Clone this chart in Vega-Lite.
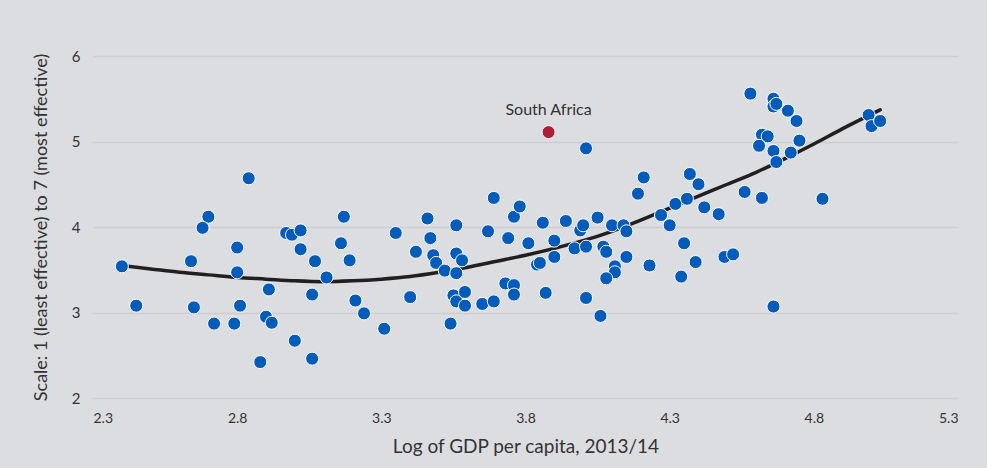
{
  "$schema": "https://vega.github.io/schema/vega-lite/v6.json",
  "width": 865,
  "height": 342,
  "autosize": "none",
  "padding": {"left": 93, "top": 56, "right": 29, "bottom": 70},
  "background": "#dcdde0",
  "config": {
    "view": {"stroke": null},
    "font": "Lato",
    "axis": {"labelColor": "#333333", "titleColor": "#333333", "labelFont": "Lato", "titleFont": "Lato", "titleFontWeight": "normal", "domain": false, "ticks": false}
  },
  "datasets": {
    "pts": [
      {"gdp": 2.40, "score": 3.54}, {"gdp": 2.45, "score": 3.08}, {"gdp": 2.84, "score": 4.57}, {"gdp": 2.70, "score": 4.12},
      {"gdp": 2.68, "score": 3.99}, {"gdp": 2.64, "score": 3.60}, {"gdp": 2.65, "score": 3.06}, {"gdp": 2.72, "score": 2.87},
      {"gdp": 2.79, "score": 2.87}, {"gdp": 2.80, "score": 3.76}, {"gdp": 2.80, "score": 3.47}, {"gdp": 2.81, "score": 3.08},
      {"gdp": 2.91, "score": 3.27}, {"gdp": 2.90, "score": 2.95}, {"gdp": 2.92, "score": 2.88}, {"gdp": 2.88, "score": 2.42},
      {"gdp": 3.00, "score": 2.67}, {"gdp": 3.06, "score": 2.46}, {"gdp": 2.97, "score": 3.93}, {"gdp": 2.99, "score": 3.91},
      {"gdp": 3.02, "score": 3.96}, {"gdp": 3.02, "score": 3.74}, {"gdp": 3.07, "score": 3.60}, {"gdp": 3.11, "score": 3.41},
      {"gdp": 3.06, "score": 3.21}, {"gdp": 3.17, "score": 4.12}, {"gdp": 3.16, "score": 3.81}, {"gdp": 3.19, "score": 3.61},
      {"gdp": 3.21, "score": 3.14}, {"gdp": 3.24, "score": 2.99}, {"gdp": 3.31, "score": 2.81}, {"gdp": 3.35, "score": 3.93},
      {"gdp": 3.40, "score": 3.18}, {"gdp": 3.46, "score": 4.10}, {"gdp": 3.47, "score": 3.87}, {"gdp": 3.42, "score": 3.71},
      {"gdp": 3.48, "score": 3.67}, {"gdp": 3.49, "score": 3.58}, {"gdp": 3.52, "score": 3.49}, {"gdp": 3.56, "score": 4.02},
      {"gdp": 3.56, "score": 3.69}, {"gdp": 3.58, "score": 3.61}, {"gdp": 3.56, "score": 3.46}, {"gdp": 3.55, "score": 3.20},
      {"gdp": 3.56, "score": 3.13}, {"gdp": 3.59, "score": 3.24}, {"gdp": 3.59, "score": 3.08}, {"gdp": 3.54, "score": 2.87},
      {"gdp": 3.65, "score": 3.10}, {"gdp": 3.69, "score": 3.13}, {"gdp": 3.67, "score": 3.95}, {"gdp": 3.69, "score": 4.34},
      {"gdp": 3.76, "score": 4.12}, {"gdp": 3.78, "score": 4.24}, {"gdp": 3.74, "score": 3.87}, {"gdp": 3.73, "score": 3.34},
      {"gdp": 3.76, "score": 3.32}, {"gdp": 3.76, "score": 3.21}, {"gdp": 3.81, "score": 3.81}, {"gdp": 3.84, "score": 3.56},
      {"gdp": 3.85, "score": 3.58}, {"gdp": 3.86, "score": 4.05}, {"gdp": 3.87, "score": 3.23}, {"gdp": 3.90, "score": 3.84},
      {"gdp": 3.90, "score": 3.65}, {"gdp": 3.94, "score": 4.07}, {"gdp": 3.99, "score": 3.96}, {"gdp": 4.00, "score": 4.02},
      {"gdp": 3.97, "score": 3.75}, {"gdp": 4.01, "score": 3.77}, {"gdp": 4.01, "score": 4.92}, {"gdp": 4.05, "score": 4.11},
      {"gdp": 4.07, "score": 3.77}, {"gdp": 4.08, "score": 3.71}, {"gdp": 4.10, "score": 4.02}, {"gdp": 4.14, "score": 4.02},
      {"gdp": 4.15, "score": 3.95}, {"gdp": 4.15, "score": 3.65}, {"gdp": 4.11, "score": 3.54}, {"gdp": 4.11, "score": 3.47},
      {"gdp": 4.08, "score": 3.40}, {"gdp": 4.01, "score": 3.17}, {"gdp": 4.06, "score": 2.96}, {"gdp": 4.19, "score": 4.39},
      {"gdp": 4.21, "score": 4.58}, {"gdp": 4.23, "score": 3.55}, {"gdp": 4.27, "score": 4.14}, {"gdp": 4.30, "score": 4.02},
      {"gdp": 4.32, "score": 4.27}, {"gdp": 4.36, "score": 4.33}, {"gdp": 4.37, "score": 4.62}, {"gdp": 4.40, "score": 4.50},
      {"gdp": 4.42, "score": 4.23}, {"gdp": 4.35, "score": 3.81}, {"gdp": 4.39, "score": 3.59}, {"gdp": 4.34, "score": 3.42},
      {"gdp": 4.47, "score": 4.15}, {"gdp": 4.49, "score": 3.65}, {"gdp": 4.52, "score": 3.68}, {"gdp": 4.56, "score": 4.41},
      {"gdp": 4.62, "score": 4.34}, {"gdp": 4.66, "score": 3.07}, {"gdp": 4.58, "score": 5.56}, {"gdp": 4.66, "score": 5.50},
      {"gdp": 4.66, "score": 5.41}, {"gdp": 4.67, "score": 5.44}, {"gdp": 4.71, "score": 5.36}, {"gdp": 4.74, "score": 5.24},
      {"gdp": 4.62, "score": 5.08}, {"gdp": 4.64, "score": 5.06}, {"gdp": 4.61, "score": 4.95}, {"gdp": 4.66, "score": 4.89},
      {"gdp": 4.67, "score": 4.76}, {"gdp": 4.75, "score": 5.01}, {"gdp": 4.72, "score": 4.87}, {"gdp": 4.83, "score": 4.33},
      {"gdp": 4.99, "score": 5.31}, {"gdp": 5.00, "score": 5.18}, {"gdp": 5.03, "score": 5.24}
    ],
    "sa": [{"gdp": 3.88, "score": 5.11, "country": "South Africa"}],
    "fit": [
      {"gdp": 2.40, "score": 3.55}, {"gdp": 2.50, "score": 3.51}, {"gdp": 2.60, "score": 3.47}, {"gdp": 2.70, "score": 3.44},
      {"gdp": 2.80, "score": 3.41}, {"gdp": 2.90, "score": 3.39}, {"gdp": 3.00, "score": 3.37}, {"gdp": 3.10, "score": 3.36},
      {"gdp": 3.20, "score": 3.37}, {"gdp": 3.30, "score": 3.39}, {"gdp": 3.40, "score": 3.42}, {"gdp": 3.50, "score": 3.47},
      {"gdp": 3.60, "score": 3.53}, {"gdp": 3.70, "score": 3.60}, {"gdp": 3.80, "score": 3.67}, {"gdp": 3.90, "score": 3.75},
      {"gdp": 4.00, "score": 3.84}, {"gdp": 4.10, "score": 3.95}, {"gdp": 4.20, "score": 4.08}, {"gdp": 4.30, "score": 4.22},
      {"gdp": 4.40, "score": 4.36}, {"gdp": 4.50, "score": 4.50}, {"gdp": 4.60, "score": 4.64}, {"gdp": 4.70, "score": 4.80},
      {"gdp": 4.80, "score": 4.97}, {"gdp": 4.90, "score": 5.15}, {"gdp": 5.03, "score": 5.37}
    ]
  },
  "encoding": {
    "x": {"field": "gdp", "type": "quantitative",
      "scale": {"domain": [2.3, 5.3], "nice": false, "zero": false},
      "axis": {"title": "Log of GDP per capita, 2013/14", "values": [2.3, 2.8, 3.3, 3.8, 4.3, 4.8, 5.3], "format": ".1f", "grid": false, "labelFontSize": 14, "labelPadding": 13, "titleFontSize": 19, "titlePadding": 12}},
    "y": {"field": "score", "type": "quantitative",
      "scale": {"domain": [2, 6], "nice": false, "zero": false},
      "axis": {"title": "Scale: 1 (least effective) to 7 (most effective)", "values": [2, 3, 4, 5, 6], "grid": true, "gridColor": "#cdced1", "gridWidth": 1.5, "labelFontSize": 15, "labelPadding": 13, "titleFontSize": 18, "titlePadding": 21}}
  },
  "layer": [
    {"data": {"name": "fit"}, "mark": {"type": "line", "color": "#231f20", "strokeWidth": 3.5, "interpolate": "monotone", "strokeCap": "round"}},
    {"data": {"name": "pts"}, "mark": {"type": "point", "filled": true, "fill": "#005bbb", "stroke": "#ffffff", "strokeWidth": 1, "size": 170, "opacity": 1, "shape": "circle"}},
    {"data": {"name": "sa"}, "mark": {"type": "point", "filled": true, "fill": "#b01e36", "stroke": "#ffffff", "strokeWidth": 1, "size": 170, "opacity": 1, "shape": "circle"}},
    {"data": {"name": "sa"}, "mark": {"type": "text", "dy": -22, "fontSize": 16, "color": "#333333", "font": "Lato"}, "encoding": {"text": {"field": "country"}}}
  ]
}
